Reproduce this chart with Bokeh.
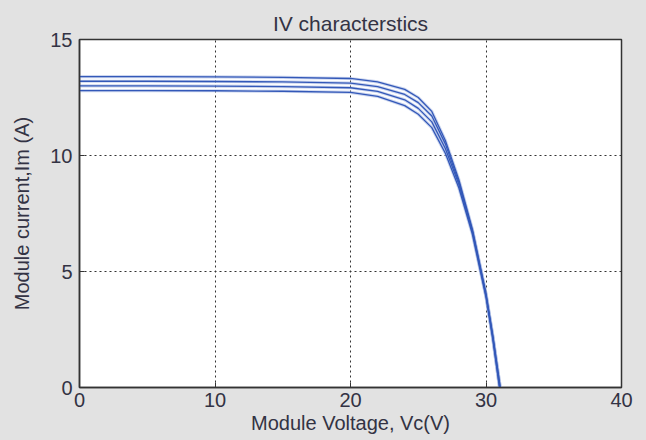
from bokeh.plotting import figure
from bokeh.embed import file_html
from bokeh.resources import INLINE
from bokeh.models import Range1d, FixedTicker

# Voltage samples (V) and currents (A)
v_a = [0, 5, 10, 15, 20, 22, 24, 25, 26, 27, 28, 29, 30, 30.5, 31.05]
i_a = [13.4, 13.4, 13.39, 13.37, 13.32, 13.17, 12.85, 12.5, 11.9, 10.65, 8.95, 6.8, 4.05, 2.25, 0.0]
v_b = [0, 5, 10, 15, 20, 22, 24, 25, 26, 27, 28, 29, 30, 30.5, 31.05]
i_b = [13.2, 13.2, 13.19, 13.17, 13.12, 12.97, 12.63, 12.28, 11.7, 10.5, 8.85, 6.75, 4.0, 2.2, 0.0]
v_c = [0, 5, 10, 15, 20, 22, 24, 25, 26, 27, 28, 29, 30, 30.5, 31.0]
i_c = [13.0, 13.0, 12.99, 12.97, 12.92, 12.76, 12.4, 12.03, 11.45, 10.3, 8.75, 6.7, 3.95, 2.15, 0.0]
v_d = [0, 5, 10, 15, 20, 22, 24, 25, 26, 27, 28, 29, 30, 30.5, 31.0]
i_d = [12.8, 12.8, 12.79, 12.77, 12.72, 12.55, 12.15, 11.78, 11.2, 10.1, 8.6, 6.6, 3.9, 2.1, 0.0]

x_ticks = [0, 10, 20, 30, 40]
y_ticks = [0, 5, 10, 15]

FONT = "Liberation Sans"
TXT = "#333344"
BG = "#e2e2e2"

p = figure(width=646, height=440, output_backend="svg", toolbar_location=None,
           x_range=Range1d(0, 40), y_range=Range1d(0, 15),
           title="IV characterstics",
           min_border_left=79, min_border_right=25, min_border_top=39, min_border_bottom=53)
p.background_fill_color = "white"
p.border_fill_color = BG
p.outline_line_color = "#333333"
p.outline_line_width = 1.5

p.title.align = "center"
p.title.text_font = FONT
p.title.text_font_size = "21px"
p.title.text_font_style = "normal"
p.title.text_color = TXT
p.title.standoff = 10

for curr, volt in ((i_a, v_a), (i_b, v_b), (i_c, v_c), (i_d, v_d)):
    p.line(volt, curr, line_color="#9aaee0", line_width=3.2, line_alpha=0.5)
for curr, volt in ((i_a, v_a), (i_b, v_b), (i_c, v_c), (i_d, v_d)):
    p.line(volt, curr, line_color="#3358b8", line_width=1.3)

p.xaxis.ticker = FixedTicker(ticks=x_ticks)
p.yaxis.ticker = FixedTicker(ticks=y_ticks)
p.xaxis.axis_label = "Module Voltage, Vc(V)"
p.yaxis.axis_label = "Module current,Im (A)"
for ax in (p.xaxis[0], p.yaxis[0]):
    ax.axis_label_text_font = FONT
    ax.axis_label_text_font_size = "20px"
    ax.axis_label_text_font_style = "normal"
    ax.axis_label_text_color = TXT
    ax.major_label_text_font = FONT
    ax.major_label_text_font_size = "20px"
    ax.major_label_text_color = TXT
    ax.axis_line_color = "#333333"
    ax.axis_line_width = 1.5
    ax.major_tick_in = 5
    ax.major_tick_out = 0
    ax.major_tick_line_color = "#333333"
    ax.minor_tick_line_color = None
p.xaxis.axis_label_standoff = 2
p.yaxis.axis_label_standoff = 14
p.xaxis.major_label_standoff = 5
p.yaxis.major_label_standoff = 7

p.xgrid.ticker = FixedTicker(ticks=x_ticks)
p.ygrid.ticker = FixedTicker(ticks=y_ticks)
for g in (p.xgrid[0], p.ygrid[0]):
    g.grid_line_color = "#333333"
    g.grid_line_dash = "2 3"
    g.grid_line_width = 1

html = file_html(p, INLINE)
html = html.replace("<head>", "<head><style>body{background:%s;}</style>" % BG, 1)
open("out.html", "w").write(html)
